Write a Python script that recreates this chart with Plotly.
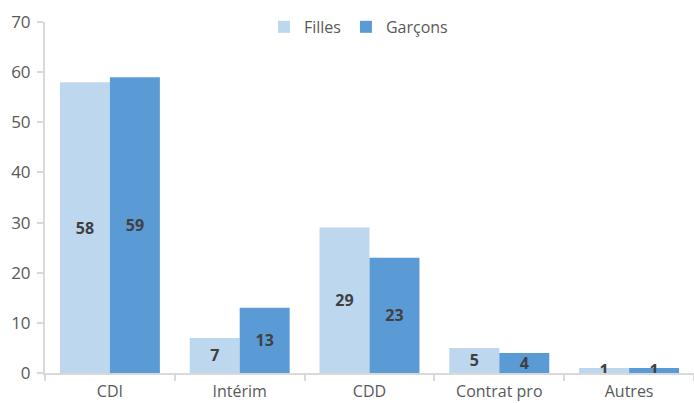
import plotly.graph_objects as go

categories = ["CDI", "Intérim", "CDD", "Contrat pro", "Autres"]
filles = [58, 7, 29, 5, 1]
garcons = [59, 13, 23, 4, 1]
y_ticks = [0, 10, 20, 30, 40, 50, 60, 70]

FONT = "Open Sans"
label_font = dict(family=FONT, size=16, color="#404040", weight="bold")
fig = go.Figure()
fig.add_trace(go.Bar(name="Filles", x=categories, y=filles, marker_color="#BDD7EE",
                     text=filles, textposition="inside", insidetextanchor="middle",
                     textangle=0, textfont=label_font, marker_line_width=0))
fig.add_trace(go.Bar(name="Garçons", x=categories, y=garcons, marker_color="#5B9BD5",
                     text=garcons, textposition="inside", insidetextanchor="middle",
                     textangle=0, textfont=label_font, marker_line_width=0))

fig.update_layout(
    width=694, height=403,
    margin=dict(l=45, r=0, t=22, b=30),
    paper_bgcolor="white", plot_bgcolor="white",
    barmode="group", bargap=0.23, bargroupgap=0,
    uniformtext=dict(minsize=16, mode="show"),
    font=dict(family=FONT, color="#595959", size=16),
    legend=dict(orientation="h", x=0.483, xanchor="center", y=0.986, yanchor="middle",
                font=dict(family=FONT, size=16, color="#595959"),
                itemwidth=30, bgcolor="rgba(0,0,0,0)"),
    showlegend=True,
)
fig.update_xaxes(showline=True, linecolor="#D9D9D9", linewidth=2,
                 ticks="outside", tickson="boundaries", tickcolor="#D9D9D9",
                 ticklen=6, tickwidth=2, automargin=False, ticklabelstandoff=3,
                 tickfont=dict(family=FONT, size=16, color="#595959"))
fig.update_yaxes(range=[0, 70], tickvals=y_ticks, showgrid=False, zeroline=False,
                 showline=True, linecolor="#D9D9D9", linewidth=2,
                 ticks="outside", tickcolor="#D9D9D9", ticklen=6, tickwidth=2,
                 automargin=False, ticklabelstandoff=3,
                 tickfont=dict(family=FONT, size=17, color="#595959"))

fig.write_html("out.html")
